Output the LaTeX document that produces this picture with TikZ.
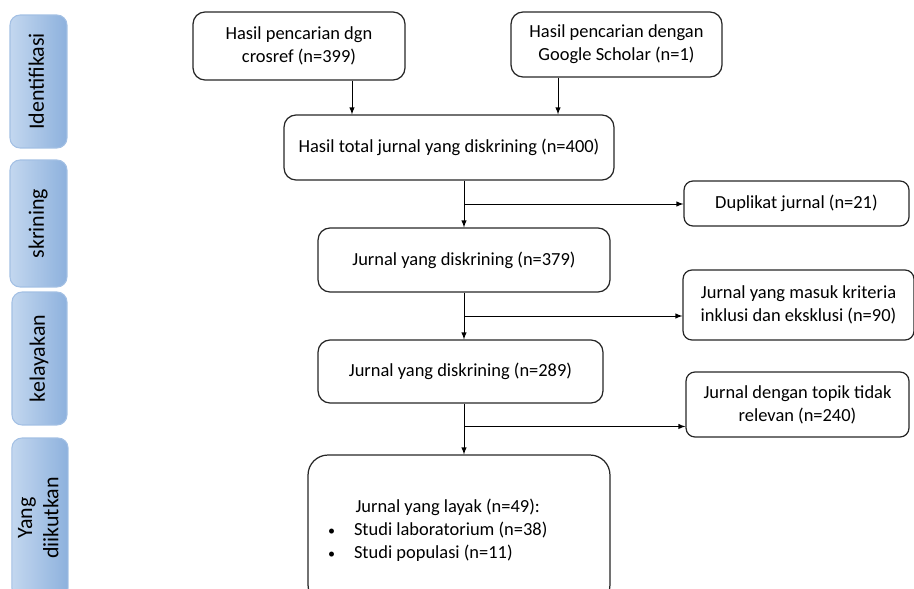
\documentclass[tikz,border=0pt]{standalone}
\usepackage{fontspec}
\setmainfont{Carlito}
\usetikzlibrary{arrows,calc}

\definecolor{barlight}{HTML}{C3D7EF}
\definecolor{bardark}{HTML}{8DB1DD}
\definecolor{barline}{HTML}{A3C0E4}

\tikzset{
  flowbox/.style={draw=black!85,line width=0.7pt,rounded corners=0.24cm,align=center,
    font=\fontsize{10.5}{13}\selectfont,inner sep=2pt},
  phasebar/.style={draw=barline,line width=0.6pt,rounded corners=0.2cm,
    left color=barlight,right color=bardark,
    font=\fontsize{12.5}{15}\selectfont,inner sep=1pt},
}
\newcommand{\itembul}{\makebox[0.52cm][l]{\footnotesize\textbullet}}
\newcommand{\barlabel}[1]{\rotatebox{90}{\begin{tabular}{@{}c@{}}#1\end{tabular}}}

\begin{document}
\begin{tikzpicture}[>=latex,x=0.02cm,y=-0.02cm]

\useasboundingbox (0,0) rectangle (914,589);
\clip (0,0) rectangle (914,589);

% tahapan
\node[phasebar,minimum height=2.66cm,minimum width=1.14cm] (s1) at (38.5,81.5) {\barlabel{Identifikasi}};
\node[phasebar,minimum height=2.54cm,minimum width=1.14cm] (s2) at (38.5,223.5) {\barlabel{skrining}};
\node[phasebar,minimum height=2.66cm,minimum width=1.1cm] (s3) at (39.5,358.5) {\barlabel{kelayakan}};
\node[phasebar,minimum height=3.2cm,minimum width=1.12cm] (s4) at (40,518) {\barlabel{Yang\\diikutkan}};

% kotak alur
\node[flowbox,minimum width=4.24cm,minimum height=1.36cm] (cari1) at (299,46) {Hasil pencarian dgn\\crosref (n=399)};
\node[flowbox,minimum width=4.22cm,minimum height=1.3cm] (cari2) at (616.5,44.5) {Hasil pencarian dengan\\Google Scholar (n=1)};
\node[flowbox,minimum width=6.6cm,minimum height=1.3cm] (total) at (449,147.5) {Hasil total jurnal yang diskrining (n=400)};
\node[flowbox,rounded corners=0.18cm,minimum width=4.5cm,minimum height=0.9cm] (dup) at (796.5,203.5) {Duplikat jurnal (n=21)};
\node[flowbox,minimum width=5.84cm,minimum height=1.28cm] (skr1) at (464,260) {Jurnal yang diskrining (n=379)};
\node[flowbox,rounded corners=0.18cm,minimum width=4.62cm,minimum height=1.4cm] (kri) at (798.5,305) {Jurnal yang masuk kriteria\\inklusi dan eksklusi (n=90)};
\node[flowbox,minimum width=5.7cm,minimum height=1.26cm] (skr2) at (460.5,371.5) {Jurnal yang diskrining (n=289)};
\node[flowbox,rounded corners=0.18cm,minimum width=4.46cm,minimum height=1.3cm] (rel) at (797.5,404.5) {Jurnal dengan topik tidak\\relevan (n=240)};
\node[flowbox,rounded corners=0.4cm,minimum width=6.04cm,minimum height=3cm,
  text width=5.24cm,align=flush left] (layak) at (459,530)
  {\hspace*{0.55cm}Jurnal yang layak (n=49):\\
   \itembul Studi laboratorium (n=38)\\
   \itembul Studi populasi (n=11)};

% panah
\draw[->] ([xshift=1.06cm]cari1.south) -- ([xshift=1.06cm]cari1.south |- total.north);
\draw[->] ([xshift=-1.17cm]cari2.south) -- ([xshift=-1.17cm]cari2.south |- total.north);

\draw[->] (skr1.north |- total.south) -- (skr1.north);
\coordinate (m1) at ($(skr1.north |- total.south)!0.5!(skr1.north)$);
\draw[->] (m1) -- (m1 -| dup.west);

\draw[->] (skr1.south) -- (skr1.south |- skr2.north);
\coordinate (m2) at ($(skr1.south)!0.5!(skr1.south |- skr2.north)$);
\draw[->] (m2) -- (m2 -| kri.west);

\draw[->] (skr1.south |- skr2.south) -- (skr1.south |- layak.north);
\coordinate (m3) at ($(skr1.south |- skr2.south)!0.45!(skr1.south |- layak.north)$);
\draw[->] (m3) -- (m3 -| rel.west);

\end{tikzpicture}
\end{document}
